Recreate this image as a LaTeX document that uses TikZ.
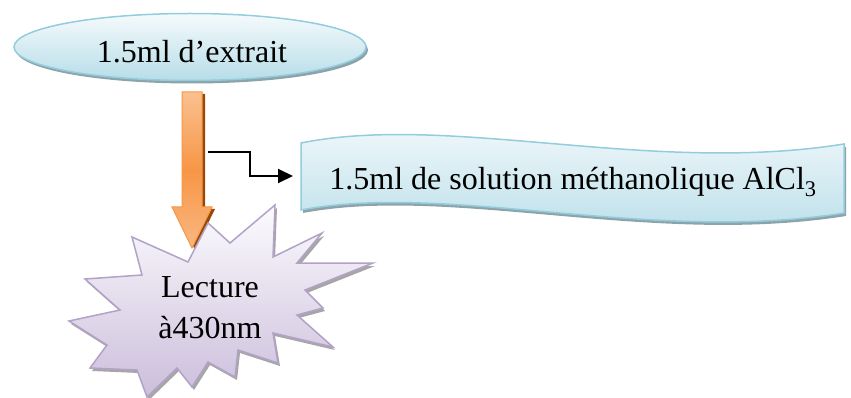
\documentclass[tikz,border=0pt]{standalone}
\usepackage{fontspec}
\setmainfont{Liberation Serif}
\usetikzlibrary{calc}
\usetikzlibrary{arrows.meta}
\usetikzlibrary{shapes.geometric}
\usetikzlibrary{shadows}
\definecolor{aqualine}{HTML}{93CDDD}
\definecolor{aquatop}{HTML}{F5FAFC}
\definecolor{aquabot}{HTML}{B7DDE8}
\definecolor{aquashadow}{HTML}{8DA3AA}
\definecolor{orline}{HTML}{F79646}
\definecolor{orlight}{HTML}{FAC090}
\definecolor{orshadow}{HTML}{984807}
\definecolor{lilline}{HTML}{B3A2C7}
\definecolor{liltop}{HTML}{FCFBFE}
\definecolor{lilbot}{HTML}{CBBEDB}
\newcommand{\txbig}{\fontsize{32}{38}\selectfont}
\tikzset{
	aqua box/.style={draw=aqualine, line width=1.5pt, top color=aquatop, bottom color=aquabot,
		drop shadow={shadow xshift=2pt, shadow yshift=-3pt, fill=aquashadow, opacity=1}},
	lilac star/.style={draw=lilline, line width=1.5pt, top color=liltop, bottom color=lilbot,
		drop shadow={shadow xshift=2pt, shadow yshift=-3pt, fill=gray!70, opacity=1}},
	orange arrow/.style={draw=orline, line width=1pt, top color=orlight, bottom color=orlight!80!orline, middle color=orline,
		drop shadow={shadow xshift=3pt, shadow yshift=-2pt, fill=orshadow, opacity=1}},
	label text/.style={font=\txbig, inner sep=0pt, anchor=base},
}

\begin{document}
\begin{tikzpicture}[x=1pt,y=-1pt]
\useasboundingbox (0,0) rectangle (851,398);
% ellipse on top
\node[ellipse, aqua box, minimum width=352pt, minimum height=67pt, inner sep=0pt] at (190,47) (extr) {};
\node[label text] at (192,63) (extrtx) {1.5ml d'extrait};
% orange down arrow
\path[orange arrow] (182,92) -- (202,92) -- (202,207) -- (212,207) -- (192,248) -- (172,207) -- (182,207) -- cycle;
% wave banner
\path[aqua box] (301,143) .. controls (450,113) and (650,175) .. (844,144) -- (844,213)
	.. controls (650,244) and (450,182) .. (301,210) -- cycle;
\node[label text] at (573,190) (sol) {1.5ml de solution méthanolique AlCl\textsubscript{3}};
\coordinate (solin) at (293,176);
% star
\path[lilac star] (132,237) -- (188,262) -- (208,223) -- (230,243) -- (275,205) -- (273,257)
	-- (322,233) -- (297,263) -- (373,263) -- (305,290) -- (323,308) -- (297,315)
	-- (333,347) -- (273,333) -- (278,363) -- (238,350) -- (235,377) -- (208,362)
	-- (192,387) -- (177,368) -- (147,397) -- (137,370) -- (90,368) -- (107,345)
	-- (69,321) -- (120,310) -- (85,279) -- (142,275) -- cycle;
\node[label text] at (210,297) (lect) {Lecture};
\node[label text] at (210,338) (nm) {à430nm};
% elbow connector
\coordinate (arr) at (208,152);
\draw[line width=2pt, -{Triangle[length=15pt,width=14pt]}] (arr) -- ++(42,0) |- (solin);
\end{tikzpicture}
\end{document}
